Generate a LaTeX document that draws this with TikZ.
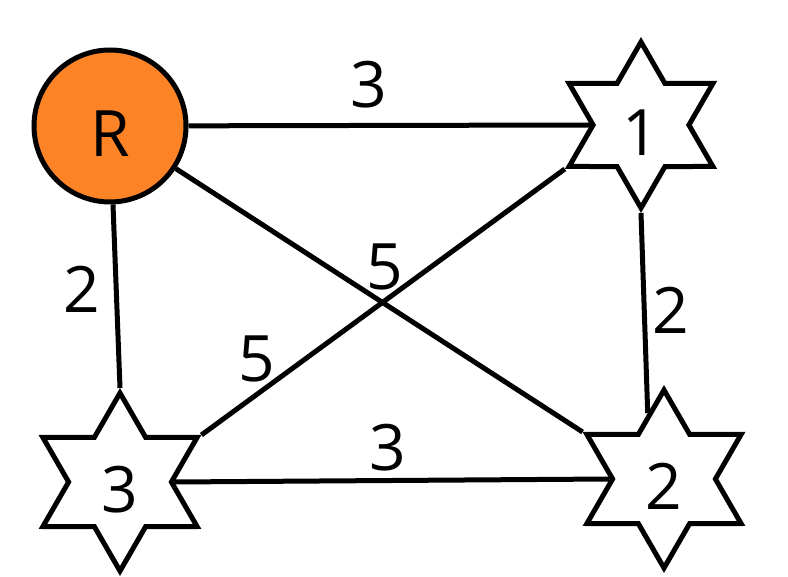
\documentclass[tikz,border=0pt]{standalone}
\usepackage{fontspec}
\setmainfont{Open Sans}
\usetikzlibrary{shapes.geometric,calc}
\definecolor{rootorange}{RGB}{253,131,39}

\begin{document}
\begin{tikzpicture}[x=1pt, y=-1pt, line width=5pt, font=\fontsize{64}{64}\selectfont,
		main/.style = {draw, inner sep=0pt, text height=62pt, text depth=0pt},
		root/.style = {main, circle, fill=rootorange, minimum size=152pt},
		hex/.style = {main, star, star points=6, star point ratio=1.732, fill=white},
		weight/.style = {inner sep=0pt}]
		\useasboundingbox (0,0) rectangle (788,577);

		\node[root] (R) at (110,126) {R};
		\node[hex, minimum size=166pt] (1) at (641,125) {1};
		\node[hex, minimum size=178pt] (2) at (664,479) {2};
		\node[hex, minimum size=178pt] (3) at (120,482) {3};

		\draw (R) -- (1.inner point 2);
		\draw (R) -- (3.outer point 1);
		\draw (R) -- (2.outer point 2);
		\draw (1.outer point 3) -- (3.outer point 6);
		\draw (1.outer point 4) -- ($(2.outer point 1)!0.6!(2.inner point 1)$);
		\draw (3.inner point 5) -- (2.inner point 2);

		\node[weight] (w1) at (369,85) {3};
		\node[weight] (w2) at (82,289) {2};
		\node[weight] (w3) at (385,267) {5};
		\node[weight] (w4) at (257,359) {5};
		\node[weight] (w5) at (671,310) {2};
		\node[weight] (w6) at (388,448) {3};
	\end{tikzpicture}
\end{document}
